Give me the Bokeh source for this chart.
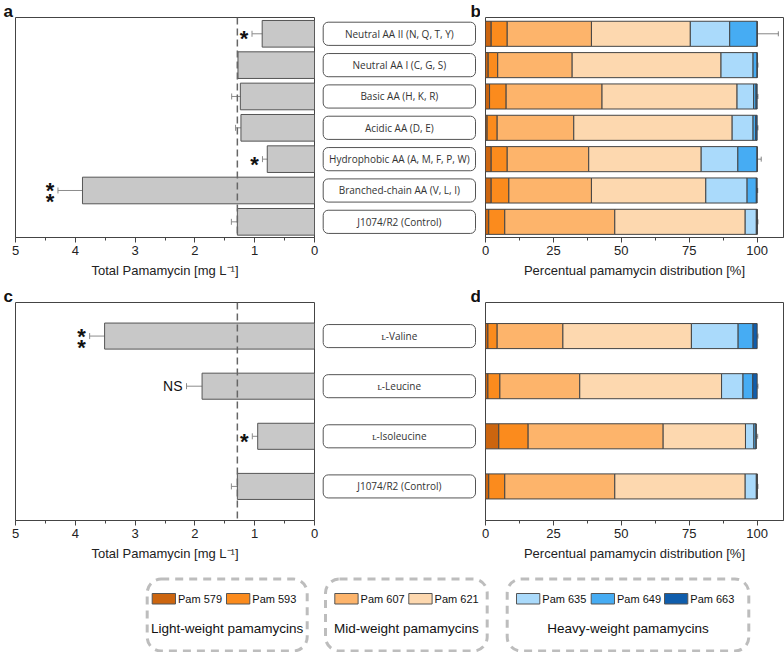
from bokeh.plotting import figure
from bokeh.models import Range1d, FixedTicker, ColumnDataSource, Whisker, TeeHead, Span, Title
from bokeh.layouts import column, row
from bokeh.embed import file_html
from bokeh.resources import INLINE
from bokeh.core.properties import value

# ---------------- data (bottom-to-top order) ----------------
cats_top = ["J1074/R2 (Control)", "Branched-chain AA (V, L, I)", "Hydrophobic AA (A, M, F, P, W)",
            "Acidic AA (D, E)", "Basic AA (H, K, R)", "Neutral AA I (C, G, S)", "Neutral AA II (N, Q, T, Y)"]
total_top = [1.29, 3.88, 0.79, 1.23, 1.24, 1.28, 0.875]
err_top = [0.10, 0.41, 0.08, 0.09, 0.145, 0.01, 0.17]
sig_top = ["", "**", "*", "", "", "", "*"]

cats_bot = ["J1074/R2 (Control)", "\u029f-Isoleucine", "\u029f-Leucine", "\u029f-Valine"]
total_bot = [1.29, 0.95, 1.88, 3.51]
err_bot = [0.10, 0.09, 0.26, 0.25]
sig_bot = ["", "*", "NS", "**"]

pam_names = ["Pam 579", "Pam 593", "Pam 607", "Pam 621", "Pam 635", "Pam 649", "Pam 663"]
pam_colors = ["#CC650F", "#FB8B1D", "#FDB46B", "#FDD8AF", "#AADAFB", "#46ACF3", "#0F5DAC"]

# panel b: percentual distribution per pamamycin (same order as cats_top)
b_579 = [1.2, 2.1, 2.1, 0.6, 1.5, 1.0, 2.1]
b_593 = [5.9, 6.5, 5.9, 3.7, 6.1, 3.5, 5.9]
b_607 = [40.5, 30.4, 30.0, 28.2, 35.3, 27.4, 31.0]
b_621 = [48.0, 42.1, 41.4, 58.3, 49.7, 54.8, 36.4]
b_635 = [4.1, 15.2, 13.5, 7.7, 6.1, 11.8, 14.5]
b_649 = [0.3, 3.4, 7.1, 1.0, 0.9, 1.5, 10.1]
b_663 = [0.0, 0.3, 0.0, 0.5, 0.4, 0.0, 0.0]
be_579 = [0.2, 0.4, 0.2, 0.3, 0.2, 0.2, 0.2]
be_593 = [0.4, 3.5, 0.9, 0.9, 1.2, 0.3, 0.3]
be_607 = [3.9, 4.7, 4.6, 4.2, 4.5, 1.0, 2.0]
be_621 = [3.3, 2.1, 6.4, 6.7, 4.9, 0.5, 3.4]
be_635 = [0.3, 1.2, 0.7, 0.5, 0.6, 0.3, 7.1]
be_649 = [0.3, 0.4, 1.5, 0.5, 0.3, 0.3, 7.8]
be_663 = [0.0, 0.2, 0.0, 0.3, 0.3, 0.0, 0.0]

# panel d (same order as cats_bot)
d_579 = [1.2, 4.9, 0.9, 0.9]
d_593 = [5.9, 10.8, 4.4, 3.4]
d_607 = [40.5, 49.7, 29.4, 24.2]
d_621 = [48.0, 30.3, 52.2, 47.3]
d_635 = [4.1, 3.1, 7.9, 17.2]
d_649 = [0.3, 0.8, 3.6, 5.5]
d_663 = [0.0, 0.0, 1.6, 1.5]
de_579 = [0.2, 1.5, 0.3, 0.3]
de_593 = [0.4, 2.6, 0.7, 0.7]
de_607 = [3.9, 7.7, 4.8, 1.6]
de_621 = [3.3, 3.7, 7.5, 4.0]
de_635 = [0.3, 0.5, 0.9, 0.4]
de_649 = [0.3, 0.6, 1.0, 1.0]
de_663 = [0.0, 0.0, 0.3, 0.3]

group_titles = ["Light-weight pamamycins", "Mid-weight pamamycins", "Heavy-weight pamamycins"]
group_members = [[0, 1], [2, 3], [4, 5, 6]]

AX = "#444444"
FONT = "Liberation Sans"


def style_x(p, ticks, minor, label):
    p.xaxis.ticker = FixedTicker(ticks=ticks, minor_ticks=minor)
    p.xaxis.axis_label = label
    p.xaxis.axis_line_color = AX
    p.xaxis.major_tick_line_color = AX
    p.xaxis.minor_tick_line_color = AX
    p.xaxis.major_tick_in = 0
    p.xaxis.major_tick_out = 5
    p.xaxis.minor_tick_in = 0
    p.xaxis.minor_tick_out = 3
    p.xaxis.major_label_text_font = FONT
    p.xaxis.major_label_text_font_size = "13px"
    p.xaxis.major_label_text_color = "#222222"
    p.xaxis.major_label_standoff = 3
    p.xaxis.axis_label_text_font = FONT
    p.xaxis.axis_label_text_font_size = "13px"
    p.xaxis.axis_label_text_font_style = "normal"
    p.xaxis.axis_label_text_color = "#222222"
    p.xaxis.axis_label_standoff = 5
    p.yaxis.visible = False
    p.xgrid.visible = False
    p.ygrid.visible = False
    p.outline_line_color = AX
    p.outline_line_width = 1


def letter(p, txt, offset):
    p.add_layout(Title(text=txt, align="left", offset=offset, standoff=-7,
                       text_font=FONT, text_font_style="bold", text_font_size="17px",
                       text_color="#111111"), "above")


def make_total(cats, totals, errs, sigs, yr, bar_h, h, bt, bb, lt):
    n = len(cats)
    ys = list(range(n))
    p = figure(width=320, height=h, x_range=Range1d(5, 0), y_range=Range1d(*yr),
               toolbar_location=None, output_backend="svg",
               min_border_left=15, min_border_right=6, min_border_top=bt, min_border_bottom=bb)
    src = ColumnDataSource(dict(y=ys, v=totals,
                                lo=[t - e for t, e in zip(totals, errs)],
                                hi=[t + e for t, e in zip(totals, errs)]))
    p.hbar(y="y", right="v", left=0, height=bar_h, source=src,
           fill_color="#C8C8C8", line_color="#555555", line_width=1)
    p.add_layout(Span(location=totals[0], dimension="height", line_color="#666666",
                      line_width=1.5, line_dash="7 4"))
    p.add_layout(Whisker(source=src, base="y", lower="lo", upper="hi", dimension="width",
                         line_color="#8c8c8c", line_width=1,
                         upper_head=TeeHead(size=6, line_color="#8c8c8c", line_width=1),
                         lower_head=TeeHead(size=6, line_color="#8c8c8c", line_width=1)))
    sx, sy, sdy, nx, ny = [], [], [], [], []
    for i, s in enumerate(sigs):
        end = totals[i] + errs[i]
        if s == "*":
            sx.append(end); sy.append(ys[i]); sdy.append(5)
        elif s == "**":
            sx += [end, end]; sy += [ys[i], ys[i]]; sdy += [0, 11]
        elif s == "NS":
            nx.append(end); ny.append(ys[i])
    p.text(x=sx, y=sy, text=["*"] * len(sx), y_offset=sdy, x_offset=-8,
           text_font=value(FONT), text_font_style="bold", text_font_size="22px",
           text_align="center", text_baseline="middle", text_color="#111111")
    if nx:
        p.text(x=nx, y=ny, text=["NS"] * len(nx), x_offset=-4,
               text_font=value(FONT), text_font_size="14px",
               text_align="right", text_baseline="middle", text_color="#111111")
    style_x(p, [0, 1, 2, 3, 4, 5], [0.5, 1.5, 2.5, 3.5, 4.5], "Total Pamamycin [mg L\u207b\u00b9]")
    letter(p, lt, -12)
    return p


def make_labels(cats, yr, box_h, h, bt, bb, lt):
    n = len(cats)
    ys = list(range(n))
    p = figure(width=160, height=h, x_range=Range1d(0, 160), y_range=Range1d(*yr),
               toolbar_location=None, output_backend="svg",
               min_border_left=0, min_border_right=0, min_border_top=bt, min_border_bottom=bb)
    p.hbar(y=ys, left=2.7, right=155, height=box_h, fill_color="white",
           line_color="#555555", line_width=1, border_radius=5)
    p.text(x=[78.85] * n, y=ys, text=cats, text_font=value("Open Sans"), text_font_size="10px",
           text_align="center", text_baseline="middle", text_color="#333333")
    p.axis.visible = False
    p.grid.visible = False
    p.outline_line_color = None
    letter(p, lt, 150)
    return p


def make_dist(cats, series, errs, yr, bar_h, h, bt, bb):
    n = len(cats)
    ys = list(range(n))
    p = figure(width=304, height=h, x_range=Range1d(0, 109.7), y_range=Range1d(*yr),
               toolbar_location=None, output_backend="svg",
               min_border_left=5, min_border_right=1, min_border_top=bt, min_border_bottom=bb)
    data = dict(y=ys)
    for name, s in zip(pam_names, series):
        data[name] = s
    src = ColumnDataSource(data)
    p.hbar_stack(pam_names, y="y", height=bar_h, fill_color=pam_colors,
                 line_color="#444444", line_width=1, source=src)
    wy, wlo, whi = [], [], []
    for i in range(n):
        cum = 0.0
        for s, e in zip(series, errs):
            cum += s[i]
            if e[i] > 0:
                wy.append(ys[i]); wlo.append(cum - e[i]); whi.append(cum + e[i])
    wsrc = ColumnDataSource(dict(y=wy, lo=wlo, hi=whi))
    p.add_layout(Whisker(source=wsrc, base="y", lower="lo", upper="hi", dimension="width",
                         line_color="#666666", line_width=0.8,
                         upper_head=TeeHead(size=5, line_color="#666666", line_width=0.8),
                         lower_head=TeeHead(size=5, line_color="#666666", line_width=0.8)))
    style_x(p, [0, 25, 50, 75, 100], [12.5, 37.5, 62.5, 87.5], "Percentual pamamycin distribution [%]")
    letter(p, " ", 0)
    return p


# ---------------- top row ----------------
yr_top = (-0.5, 6.52)
pa = make_total(cats_top, total_top, err_top, sig_top, yr_top, 0.85, 285, 17, 48, "a")
pl1 = make_labels(cats_top, yr_top, 0.74, 285, 17, 48, "b")
pb = make_dist(cats_top, [b_579, b_593, b_607, b_621, b_635, b_649, b_663],
               [be_579, be_593, be_607, be_621, be_635, be_649, be_663], yr_top, 0.8, 285, 17, 48)

# ---------------- bottom row ----------------
yr_bot = (-0.68, 3.67)
pc = make_total(cats_bot, total_bot, err_bot, sig_bot, yr_bot, 0.52, 283, 17, 48, "c")
pl2 = make_labels(cats_bot, yr_bot, 0.46, 283, 17, 48, "d")
pd = make_dist(cats_bot, [d_579, d_593, d_607, d_621, d_635, d_649, d_663],
               [de_579, de_593, de_607, de_621, de_635, de_649, de_663], yr_bot, 0.5, 283, 17, 48)

# ---------------- legend ----------------
lg = figure(width=784, height=84, x_range=Range1d(0, 784), y_range=Range1d(652, 568),
            toolbar_location=None, output_backend="svg", min_border=0)
lg.axis.visible = False
lg.grid.visible = False
lg.outline_line_color = None
box_left = [146.7, 325.0, 506.7]
box_right = [306.7, 486.7, 748.3]
lg.quad(left=box_left, right=box_right, top=578.5, bottom=650.5, fill_color=None,
        line_color="#bdbdbd", line_width=3, line_dash="8 6", border_radius=14)
sw_left = [151.7, 226.0, 334.3, 408.3, 516.0, 590.7, 664.0]
sw_w = 23.3
order = [m for g in group_members for m in g]
lg.quad(left=sw_left, right=[x + sw_w for x in sw_left], top=593, bottom=603.5,
        fill_color=[pam_colors[k] for k in order], line_color="#555555", line_width=1)
lg.text(x=[x + sw_w + 2.5 for x in sw_left], y=[598.3] * len(sw_left),
        text=[pam_names[k] for k in order], text_font=value(FONT), text_font_size="11px",
        text_baseline="middle", text_align="left", text_color="#111111")
lg.text(x=[(l + r) / 2 for l, r in zip(box_left, box_right)], y=[628.3] * 3, text=group_titles,
        text_font=value(FONT), text_font_size="13.5px", text_baseline="middle",
        text_align="center", text_color="#111111")

layout = column(row(pa, pl1, pb), row(pc, pl2, pd), lg)
open("out.html", "w").write(file_html(layout, INLINE))
